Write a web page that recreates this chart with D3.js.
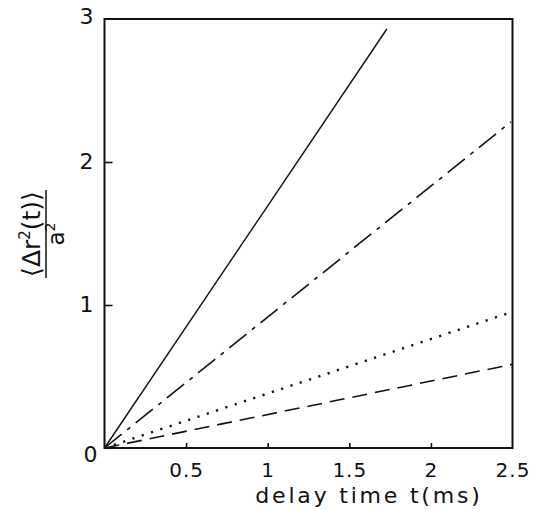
<!DOCTYPE html>
<html>
<head>
<meta charset="utf-8">
<script src="https://cdn.jsdelivr.net/npm/d3@7"></script>
<style>
  body { margin: 0; background: #fff; }
  svg text { font-family: "DejaVu Sans", sans-serif; fill: #111; }
</style>
</head>
<body>
<div id="chart"></div>
<script>
// --- Data ---
const xTicks = [0.5, 1, 1.5, 2, 2.5];
const xTickLabels = ["0.5", "1", "1.5", "2", "2.5"];
const yTicks = [0, 1, 2, 3];
const yTickLabels = ["0", "1", "2", "3"];
const solidLine = [[0, 0], [1.73, 2.93]];
const dashDotLine = [[0, 0], [2.49, 2.28]];
const dottedLine = [[0, 0], [2.48, 0.945]];
const dashedLine = [[0, 0], [2.5, 0.585]];

const width = 537, height = 510;
const margin = { top: 19, right: 24.5, bottom: 62, left: 104.5 };
const innerWidth = width - margin.left - margin.right;
const innerHeight = height - margin.top - margin.bottom;

const svg = d3.select("#chart").append("svg")
  .attr("width", width)
  .attr("height", height);

const g = svg.append("g")
  .attr("transform", `translate(${margin.left},${margin.top})`);

const xScale = d3.scaleLinear().domain([0, 2.5]).range([0, innerWidth]);
const yScale = d3.scaleLinear().domain([0, 3]).range([innerHeight, 0]);

// --- Frame ---
g.append("rect")
  .attr("width", innerWidth)
  .attr("height", innerHeight)
  .attr("fill", "none")
  .attr("stroke", "#111")
  .attr("stroke-width", 2);

// --- Axes (inward ticks) ---
g.append("g")
  .attr("transform", `translate(0,${innerHeight})`)
  .call(d3.axisBottom(xScale).tickValues(xTicks).tickSize(-5).tickPadding(15)
    .tickFormat((d, i) => xTickLabels[i]))
  .call(a => a.select(".domain").remove())
  .call(a => a.selectAll(".tick line").attr("stroke", "#111").attr("stroke-width", 1.6)
    .attr("display", d => d === 2.5 ? "none" : null))
  .call(a => a.selectAll(".tick text").attr("font-size", "20px").attr("fill", "#111")
    .attr("letter-spacing", "1px"));

g.append("g")
  .call(d3.axisLeft(yScale).tickValues(yTicks).tickSize(-8).tickPadding(11)
    .tickFormat((d, i) => yTickLabels[i]))
  .call(a => a.select(".domain").remove())
  .call(a => a.selectAll(".tick line").attr("stroke", "#111").attr("stroke-width", 1.6)
    .attr("display", d => d === 0 || d === 3 ? "none" : null))
  .call(a => a.selectAll(".tick text").attr("font-size", "22px").attr("fill", "#111")
    .attr("dy", d => d === 0 ? "0.62em" : d === 3 ? "0.22em" : "0.3em")
    .attr("dx", d => d === 0 ? "4" : "0"));

// --- Lines ---
const line = d3.line().x(d => xScale(d[0])).y(d => yScale(d[1]));
const series = [
  { data: solidLine, dash: null, w: 1.4 },
  { data: dashDotLine, dash: "22 7 4 7", w: 1.6 },
  { data: dottedLine, dash: "2.2 7.6", w: 2.4 },
  { data: dashedLine, dash: "15 8", w: 1.6 }
];
g.selectAll(".series")
  .data(series)
  .join("path")
  .attr("class", "series")
  .attr("d", d => line(d.data))
  .attr("fill", "none")
  .attr("stroke", "#111")
  .attr("stroke-width", d => d.w)
  .attr("stroke-dasharray", d => d.dash);

// --- Labels ---
svg.append("text")
  .attr("x", 369)
  .attr("y", 503)
  .attr("text-anchor", "middle")
  .attr("font-size", "22px")
  .attr("letter-spacing", "2.8px")
  .text("delay time t(ms)");

const yl = svg.append("g").attr("transform", "translate(0,234) rotate(-90)");
yl.append("text")
  .attr("x", 0)
  .attr("y", 40)
  .attr("text-anchor", "middle")
  .attr("font-size", "25px")
  .html('\u27E8\u0394r<tspan font-size="15px" dy="-10">2</tspan><tspan dy="10">(t)\u27E9</tspan>');
yl.append("line")
  .attr("x1", -44).attr("x2", 44)
  .attr("y1", 46).attr("y2", 46)
  .attr("stroke", "#111").attr("stroke-width", 1.5);
yl.append("text")
  .attr("x", 0)
  .attr("y", 64)
  .attr("text-anchor", "middle")
  .attr("font-size", "23px")
  .html('a<tspan font-size="14px" dy="-9">2</tspan>');
</script>
</body>
</html>
